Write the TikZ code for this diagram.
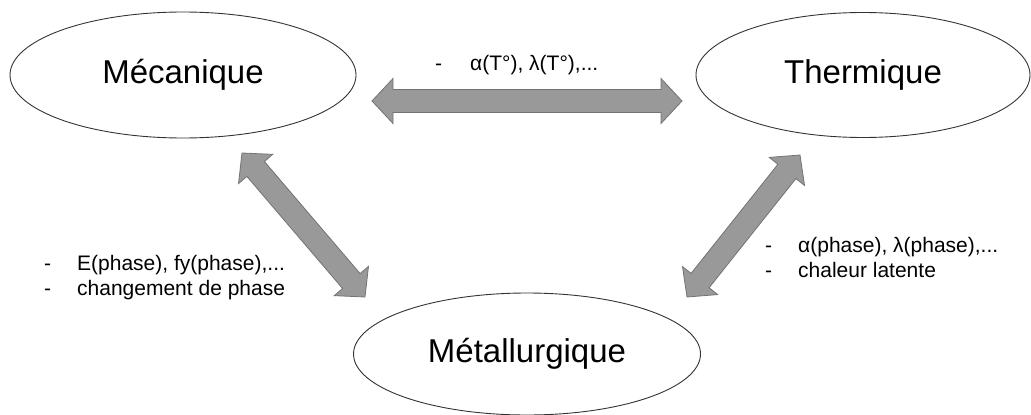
\documentclass[tikz,border=0pt]{standalone}
\usepackage{fontspec}
\setmainfont{Liberation Sans}
\usetikzlibrary{shapes.geometric,calc}
\tikzset{
  fieldbox/.style={ellipse,draw=black!80,line width=0.9pt,inner sep=0pt,
    font=\fontsize{33}{39}\selectfont},
  note/.style={anchor=base west,inner sep=0pt,font=\fontsize{21}{25}\selectfont},
  link/.style={fill=black!40,draw=black!55,line width=0.8pt,line join=miter}
}
% double-headed block arrow between two named coordinates
\newcommand\couplingarrow[2]{%
  \coordinate (ha) at ($(#1)!21pt!(#2)$);
  \coordinate (hb) at ($(#2)!21pt!(#1)$);
  \draw[link] (#1) -- ($(ha)!22.5pt!90:(#2)$) -- ($(ha)!11.5pt!90:(#2)$)
    -- ($(hb)!11.5pt!-90:(#1)$) -- ($(hb)!22.5pt!-90:(#1)$) -- (#2)
    -- ($(hb)!22.5pt!90:(#1)$) -- ($(hb)!11.5pt!90:(#1)$)
    -- ($(ha)!11.5pt!-90:(#2)$) -- ($(ha)!22.5pt!-90:(#2)$) -- cycle;
}
\begin{document}
\begin{tikzpicture}[x=1pt,y=-1pt]
  \useasboundingbox (0,0) rectangle (1031,415);

  % the three physics domains
  \node[fieldbox,minimum width=346pt,minimum height=126pt] (meca) at (183,75) {Mécanique};
  \node[fieldbox,minimum width=334pt,minimum height=125pt] (ther) at (863,75) {Thermique};
  \node[fieldbox,minimum width=347pt,minimum height=122pt] (meta) at (527,354) {Métallurgique};

  % arrow end points
  \coordinate (mt1) at (372,101);
  \coordinate (mt2) at (682,101);
  \coordinate (mm1) at (242,153);
  \coordinate (mm2) at (365,297);
  \coordinate (tm1) at (800,155);
  \coordinate (tm2) at (687,297);

  \couplingarrow{mt1}{mt2}
  \couplingarrow{mm1}{mm2}
  \couplingarrow{tm1}{tm2}

  % coupling notes
  \node[note] (n1) at (435,70) {\makebox[35pt][l]{-}α(T°), λ(T°),...};
  \node[note] (n2) at (44,270) {\makebox[33pt][l]{-}E(phase), fy(phase),...};
  \node[note] (n3) at (44,295) {\makebox[33pt][l]{-}changement de phase};
  \node[note] (n4) at (765,252) {\makebox[33pt][l]{-}α(phase), λ(phase),...};
  \node[note] (n5) at (765,277) {\makebox[33pt][l]{-}chaleur latente};
\end{tikzpicture}
\end{document}
